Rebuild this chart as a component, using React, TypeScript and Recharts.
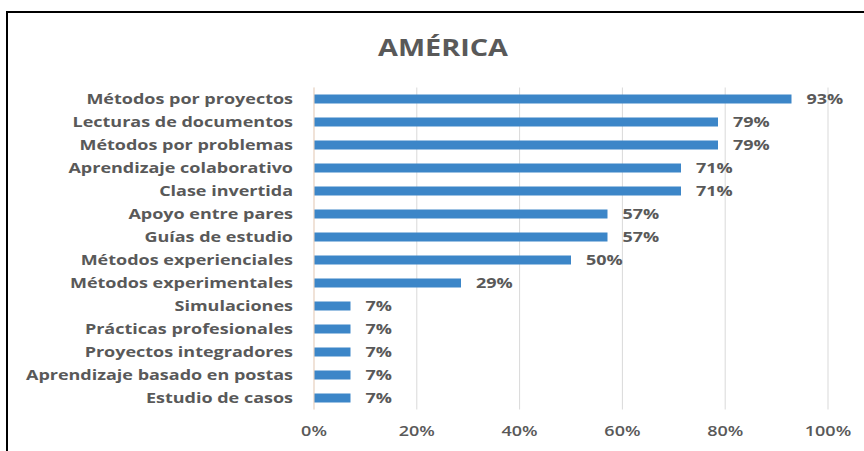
import React from "react";
import { BarChart, Bar, XAxis, YAxis, CartesianGrid, LabelList } from "recharts";

const categories = [
  "Métodos por proyectos",
  "Lecturas de documentos",
  "Métodos por problemas",
  "Aprendizaje colaborativo",
  "Clase invertida",
  "Apoyo entre pares",
  "Guías de estudio",
  "Métodos experienciales",
  "Métodos experimentales",
  "Simulaciones",
  "Prácticas profesionales",
  "Proyectos integradores",
  "Aprendizaje basado en postas",
  "Estudio de casos",
];

const values = [0.929, 0.786, 0.786, 0.714, 0.714, 0.571, 0.571, 0.5, 0.286, 0.071, 0.071, 0.071, 0.071, 0.071];

const xTicks = [0, 0.2, 0.4, 0.6, 0.8, 1];

const title = "AMÉRICA";

const data = categories.map((c, i) => ({ name: c, value: values[i] }));

const FONT = "'Open Sans', sans-serif";
const GRAY = "#595959";
const SX = 1.2;

const pct = (v: number) => `${Math.round(v * 100)}%`;

const YTick = (props: any) => {
  const { x, y, payload } = props;
  return (
    <g transform={`translate(${x},${y})`}>
      <text
        transform={`scale(${SX},1)`}
        textAnchor="end"
        dy="0.355em"
        fill={GRAY}
        fontFamily={FONT}
        fontSize={15}
        fontWeight={700}
      >
        {payload.value}
      </text>
    </g>
  );
};

const XTick = (props: any) => {
  const { x, y, payload } = props;
  return (
    <g transform={`translate(${x},${y})`}>
      <text
        transform={`scale(${SX},1)`}
        textAnchor="middle"
        dy="0.71em"
        fill={GRAY}
        fontFamily={FONT}
        fontSize={15}
        fontWeight={600}
      >
        {pct(payload.value)}
      </text>
    </g>
  );
};

const BarLabel = (props: any) => {
  const { x, y, width, height, value } = props;
  return (
    <g transform={`translate(${x + width + 15},${y + height / 2})`}>
      <text
        transform={`scale(${SX},1)`}
        textAnchor="start"
        dy="0.355em"
        fill={GRAY}
        fontFamily={FONT}
        fontSize={15}
        fontWeight={700}
      >
        {pct(Number(value))}
      </text>
    </g>
  );
};

export default function App() {
  return (
    <div style={{ position: "absolute", left: 0, top: 0, width: 864, height: 451, background: "#fff", overflow: "hidden" }}>
      <div
        style={{
          position: "absolute",
          left: 6,
          top: 11,
          width: 900,
          height: 500,
          borderTop: "2px solid #000",
          borderLeft: "2px solid #000",
        }}
      />
      <div
        style={{
          position: "absolute",
          left: 0,
          top: 30,
          width: 886,
          textAlign: "center",
          fontFamily: FONT,
          fontWeight: 700,
          fontSize: 24,
          color: GRAY,
          lineHeight: "34px",
          transform: `scaleX(${SX})`,
          transformOrigin: "443px 0",
        }}
      >
        {title}
      </div>
      <div style={{ position: "absolute", left: 0, top: 0 }}>
        <BarChart
          width={864}
          height={451}
          data={data}
          layout="vertical"
          margin={{ top: 87.5, right: 36, bottom: 11.5, left: 0 }}
          barCategoryGap={7}
        >
          <CartesianGrid horizontal={false} vertical={true} stroke="#d9d9d9" strokeWidth={1} />
          <XAxis
            type="number"
            domain={[0, 1]}
            ticks={xTicks}
            tickFormatter={pct}
            axisLine={false}
            tickLine={false}
            height={30}
            tickMargin={10}
            tick={<XTick />}
          />
          <YAxis
            type="category"
            dataKey="name"
            width={314}
            axisLine={{ stroke: "#f4d9c4", strokeWidth: 1 }}
            tickLine={false}
            tickSize={0}
            tickMargin={21}
            interval={0}
            tick={<YTick />}
          />
          <Bar dataKey="value" fill="#3C86C8" barSize={9} isAnimationActive={false}>
            <LabelList dataKey="value" content={<BarLabel />} />
          </Bar>
        </BarChart>
      </div>
    </div>
  );
}
